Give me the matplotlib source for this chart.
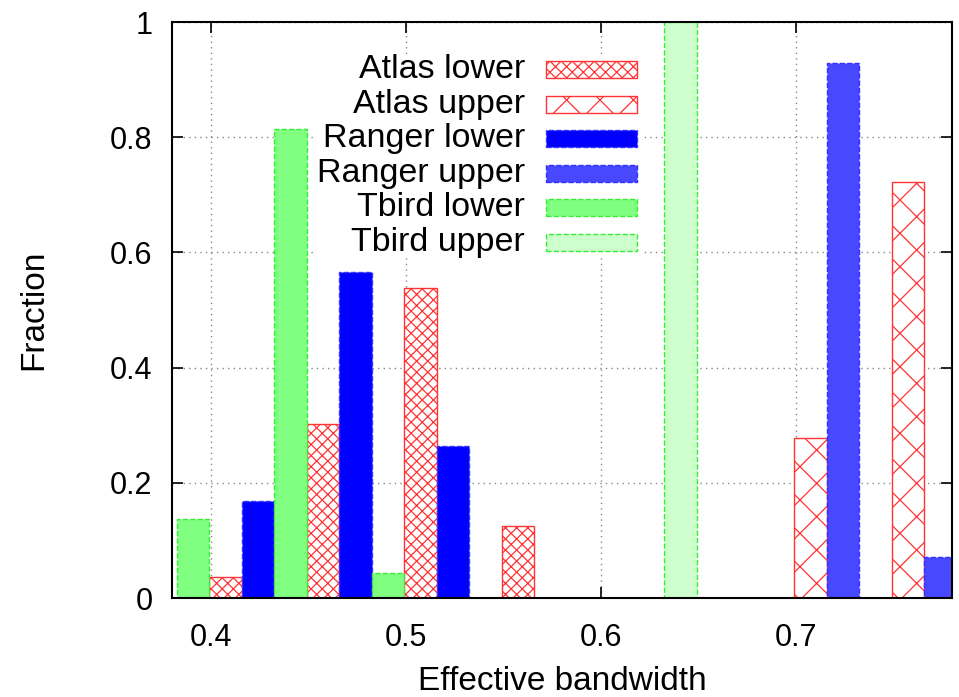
import numpy as np
import matplotlib
matplotlib.use("Agg")
from matplotlib import pyplot as plt
from matplotlib.patches import Rectangle

plt.rcParams['font.family'] = ['Liberation Sans', 'DejaVu Sans']
plt.rcParams['hatch.linewidth'] = 0.9

# bin centres (effective bandwidth), one cluster of three bars per bin
bins = [0.4075, 0.4575, 0.5075, 0.5575, 0.6075, 0.6575, 0.7075, 0.7575]
bw = 0.05 / 3

atlas_lower = [0.036, 0.302, 0.538, 0.125, 0, 0, 0, 0]
atlas_upper = [0, 0, 0, 0, 0, 0, 0.277, 0.723]
ranger_lower = [0.168, 0.566, 0.264, 0, 0, 0, 0, 0]
ranger_upper = [0, 0, 0, 0, 0, 0, 0.929, 0.072]
tbird_lower = [0.138, 0.815, 0.044, 0, 0, 0, 0, 0]
tbird_upper = [0, 0, 0, 0, 0, 1.0, 0, 0]

labels = ['Atlas lower', 'Atlas upper', 'Ranger lower', 'Ranger upper',
          'Tbird lower', 'Tbird upper']

red = '#ff3333'
styles = [
    dict(facecolor='white', edgecolor=red, hatch='xxx', linewidth=1.0),
    dict(facecolor='white', edgecolor=red, hatch='x', linewidth=1.0),
    dict(facecolor='#0000ff', edgecolor='#3333ff', linestyle='--', linewidth=1.0),
    dict(facecolor='#4848ff', edgecolor='#3030ff', linestyle='--', linewidth=1.0),
    dict(facecolor='#80ff80', edgecolor='#33ee33', linestyle='--', linewidth=1.0),
    dict(facecolor='#ccffcc', edgecolor='#33ee33', linestyle='--', linewidth=1.0),
]

fig = plt.figure(figsize=(9.59, 6.97), dpi=100)
ax = fig.add_axes([172 / 959, 1 - 598 / 697, 780 / 959, 576 / 697])

x = np.array(bins)
series = [(atlas_lower, 0), (atlas_upper, 0), (ranger_lower, 1), (ranger_upper, 1),
          (tbird_lower, -1), (tbird_upper, -1)]
for (vals, off), st in zip(series, styles):
    v = np.array(vals, dtype=float)
    m = v > 0
    ax.bar(x[m] + off * bw, v[m], width=bw, zorder=3, **st)

ax.set_xlim(0.38, 0.78)
ax.set_ylim(0, 1)
ax.set_xticks([0.4, 0.5, 0.6, 0.7])
ax.set_xticklabels(['0.4', '0.5', '0.6', '0.7'])
ax.set_yticks([0, 0.2, 0.4, 0.6, 0.8, 1])
ax.set_yticklabels(['0', '0.2', '0.4', '0.6', '0.8', '1'])
ax.tick_params(direction='in', length=8, width=1.2, top=True, right=True,
               labelsize=22)
ax.tick_params(axis='x', pad=18)
ax.tick_params(axis='y', pad=14)
ax.grid(True, linestyle=(0, (1, 3)), color='#888888', linewidth=1.0, zorder=0)
ax.set_axisbelow(True)
for s in ax.spines.values():
    s.set_linewidth(1.5)
    s.set_zorder(5)

ax.set_xlabel('Effective bandwidth', fontsize=24, labelpad=9)
ax.set_ylabel('Fraction', fontsize=24, labelpad=44)

# key, drawn by hand so the labels are right aligned like the original
ax.add_patch(Rectangle((0.185, 0.59), 0.42, 0.35, transform=ax.transAxes,
                       facecolor='white', edgecolor='none', zorder=2))
y0 = 0.917
dy = 0.0599
for i, (lab, st) in enumerate(zip(labels, styles)):
    yy = y0 - i * dy
    ax.text(0.4526, yy, lab, transform=ax.transAxes, ha='right', va='center',
            fontsize=24.5, zorder=6)
    ax.add_patch(Rectangle((0.4795, yy - 0.0148), 0.1165, 0.0296,
                           transform=ax.transAxes, zorder=6, **st))

fig.savefig('out.png', dpi=100)
